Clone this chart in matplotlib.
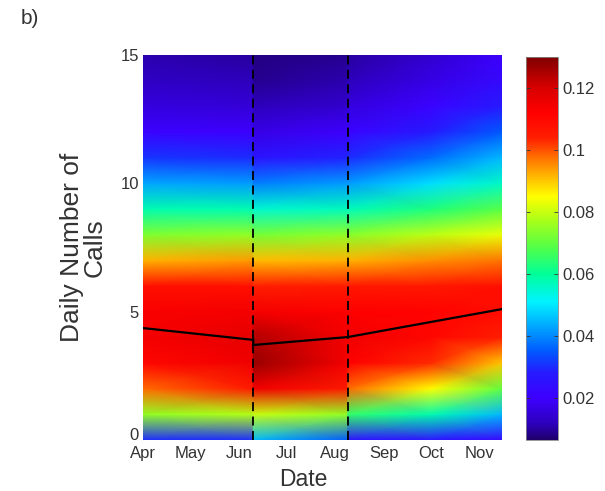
import numpy as np
import matplotlib
matplotlib.use("Agg")
import matplotlib.pyplot as plt
import matplotlib.dates as mdates
from matplotlib.colors import Normalize, LinearSegmentedColormap
from datetime import date

plt.rcParams['font.family'] = ['Liberation Sans', 'DejaVu Sans']
TXT = '#333333'

# Daily call counts (rows of the density grid)
counts = np.arange(16)

# Probability of n calls per day, one column per date, per period
period1_dates = [date(2013, 4, 1), date(2013, 6, 10)]
period1_start = [0.030, 0.075, 0.098, 0.110, 0.114, 0.113, 0.108, 0.092,
                 0.073, 0.058, 0.043, 0.031, 0.021, 0.016, 0.013, 0.011]
period1_end = [0.030, 0.078, 0.105, 0.115, 0.117, 0.114, 0.108, 0.094,
               0.075, 0.058, 0.042, 0.030, 0.020, 0.015, 0.012, 0.010]

period2_dates = [date(2013, 6, 10), date(2013, 8, 9)]
period2_start = [0.045, 0.080, 0.115, 0.127, 0.124, 0.114, 0.104, 0.091,
                 0.072, 0.055, 0.039, 0.026, 0.017, 0.012, 0.009, 0.008]
period2_end = [0.035, 0.075, 0.105, 0.114, 0.114, 0.112, 0.105, 0.092,
               0.075, 0.057, 0.042, 0.029, 0.020, 0.014, 0.011, 0.009]

period3_dates = [date(2013, 8, 9), date(2013, 10, 1), date(2013, 11, 15)]
period3_start = [0.025, 0.065, 0.098, 0.112, 0.115, 0.112, 0.106, 0.092,
                 0.074, 0.057, 0.042, 0.030, 0.021, 0.016, 0.012, 0.010]
period3_mid = [0.026, 0.058, 0.085, 0.103, 0.110, 0.111, 0.106, 0.095,
               0.079, 0.063, 0.049, 0.037, 0.028, 0.021, 0.017, 0.014]
period3_end = [0.022, 0.045, 0.070, 0.090, 0.104, 0.109, 0.108, 0.097,
               0.083, 0.069, 0.056, 0.045, 0.035, 0.028, 0.023, 0.020]

# Expected daily number of calls (step change at the first breakpoint)
mean_dates = [date(2013, 4, 1), date(2013, 6, 10), date(2013, 6, 10),
              date(2013, 8, 9), date(2013, 11, 15)]
mean_calls = [4.36, 3.90, 3.70, 4.01, 5.10]

# Breakpoints between periods
breakpoints = [date(2013, 6, 10), date(2013, 8, 9)]

month_labels = ['Apr', 'May', 'Jun', 'Jul', 'Aug', 'Sep', 'Oct', 'Nov']
cbar_ticks = [0.02, 0.04, 0.06, 0.08, 0.10, 0.12]
cbar_labels = ['0.02', '0.04', '0.06', '0.08', '0.1', '0.12']

# Jet-like colour scale with a broad red section
VMIN, VMAX = 0.0065, 0.13
scale_stops = [
    (0.0065, (0.12, 0.00, 0.42)),
    (0.012, (0.18, 0.00, 0.75)),
    (0.020, (0.24, 0.00, 1.00)),
    (0.028, (0.15, 0.10, 1.00)),
    (0.035, (0.00, 0.35, 1.00)),
    (0.043, (0.00, 0.65, 1.00)),
    (0.051, (0.00, 0.95, 1.00)),
    (0.060, (0.00, 1.00, 0.60)),
    (0.068, (0.30, 1.00, 0.30)),
    (0.077, (0.65, 1.00, 0.10)),
    (0.085, (1.00, 1.00, 0.00)),
    (0.092, (1.00, 0.70, 0.00)),
    (0.098, (1.00, 0.42, 0.00)),
    (0.104, (1.00, 0.12, 0.00)),
    (0.112, (1.00, 0.00, 0.00)),
    (0.120, (0.85, 0.00, 0.00)),
    (0.130, (0.50, 0.00, 0.00)),
]
cmap = LinearSegmentedColormap.from_list(
    'calls', [((v - VMIN) / (VMAX - VMIN), c) for v, c in scale_stops], N=512)
norm = Normalize(vmin=VMIN, vmax=VMAX)

fig = plt.figure(figsize=(6.05, 4.91), dpi=100)
ax = fig.add_axes([0.2364, 0.1039, 0.5934, 0.7841])
cax = fig.add_axes([0.8694, 0.1039, 0.0529, 0.7800])

periods = [
    (period1_dates, [period1_start, period1_end]),
    (period2_dates, [period2_start, period2_end]),
    (period3_dates, [period3_start, period3_mid, period3_end]),
]
mesh = None
for dts, cols in periods:
    x = mdates.date2num(dts)
    C = np.array(cols).T
    mesh = ax.pcolormesh(x, counts, C, shading='gouraud', cmap=cmap,
                         norm=norm, rasterized=True)

ax.plot(mdates.date2num(mean_dates), mean_calls, color='black', lw=1.6,
        solid_joinstyle='miter', zorder=3)
for bp in breakpoints:
    ax.axvline(mdates.date2num(bp), color='black', lw=1.3,
               dashes=(5, 3), zorder=3)

ax.set_xlim(mdates.date2num(date(2013, 4, 1)),
            mdates.date2num(date(2013, 11, 15)))
ax.set_ylim(0, 15)
month_ticks = [mdates.date2num(date(2013, m, 1)) for m in range(4, 12)]
ax.set_xticks(month_ticks)
ax.set_xticklabels(month_labels)
ax.set_yticks([0, 5, 10, 15])
ax.tick_params(axis='both', direction='in', length=0, labelsize=12,
               colors=TXT, pad=3)
ax.tick_params(axis='x', pad=4.5)
for s in ax.spines.values():
    s.set_visible(False)
# keep the "0" clear of the first month label
ax.yaxis.get_major_ticks()[0].label1.set_verticalalignment('baseline')

ax.set_xlabel('Date', fontsize=16.5, color=TXT, labelpad=0)
ax.xaxis.label.set_verticalalignment('baseline')
ax.xaxis.set_label_coords(0.446, -0.1195)
ax.set_ylabel('Daily Number of\nCalls', fontsize=19, color=TXT,
              linespacing=0.95)
ax.yaxis.set_label_coords(-0.100, 0.5)

cb = fig.colorbar(mesh, cax=cax)
cb.set_ticks(cbar_ticks)
cb.set_ticklabels(cbar_labels)
cb.ax.tick_params(direction='in', length=3, labelsize=12, colors=TXT,
                  width=0.6, left=True, right=True, pad=3)
cb.outline.set_edgecolor('#888888')
cb.outline.set_linewidth(0.6)

fig.text(0.035, 0.963, 'b)', fontsize=15, color=TXT, ha='left', va='center')

fig.savefig('out.png', dpi=100)
